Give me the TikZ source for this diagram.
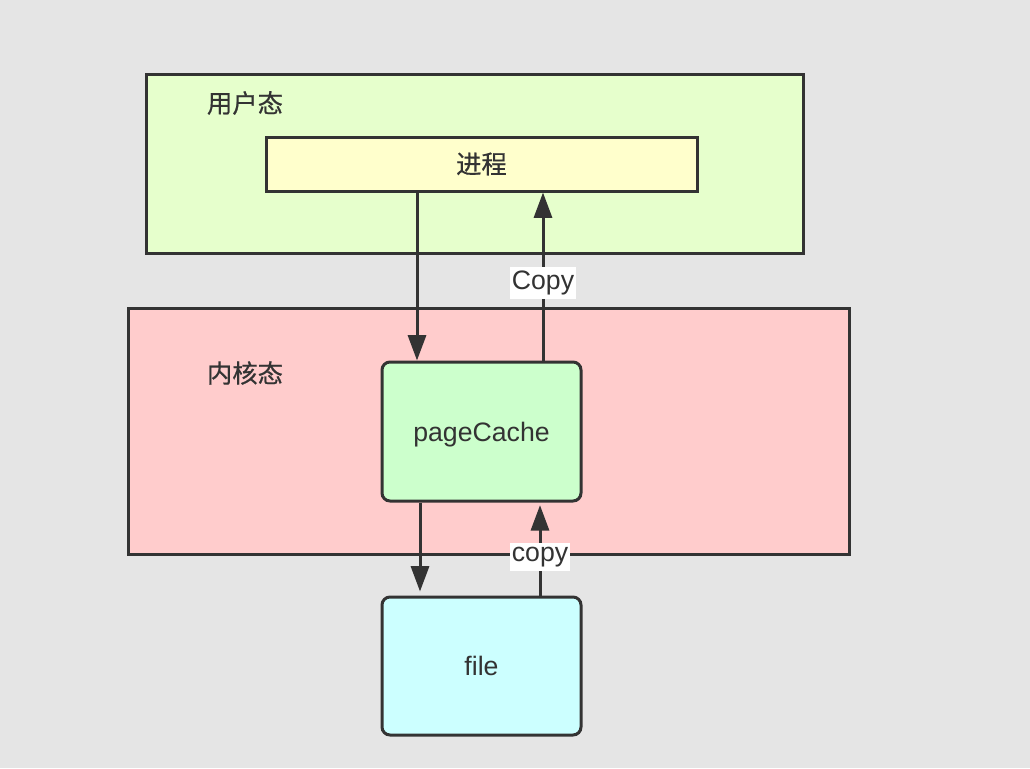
\documentclass[tikz,border=0pt]{standalone}
\usepackage{fontspec}
\setmainfont{Liberation Sans}
\newfontfamily\cjk[FakeBold=0.6]{Noto Sans CJK SC}
\usetikzlibrary{arrows.meta}
\definecolor{bg}{HTML}{E5E5E5}
\definecolor{ink}{HTML}{333333}
\definecolor{userfill}{HTML}{E6FFCC}
\definecolor{procfill}{HTML}{FFFFCC}
\definecolor{kernfill}{HTML}{FFCCCC}
\definecolor{cachefill}{HTML}{CCFFCC}
\definecolor{filefill}{HTML}{CCFFFF}
\tikzset{
  boxbase/.style={draw=ink, line width=2.25pt, inner sep=0pt, text=ink},
  region/.style={boxbase},
  rbox/.style={boxbase, rounded corners=6pt},
  cjkfont/.style={font=\cjk\fontsize{19}{22}\selectfont},
  cjklabel/.style={text=ink, cjkfont, inner sep=0pt},
  latlabel/.style={text=ink, font=\fontsize{20}{24}\selectfont, text depth=0pt, text height=14.3pt},
  arr/.style={draw=ink, line width=2.25pt, -{Triangle[length=19pt,width=13.5pt]}},
  tag/.style={fill=white, text=ink, font=\fontsize{20}{24}\selectfont, inner xsep=1.5pt, inner ysep=3pt}
}
\begin{document}
\begin{tikzpicture}[x=0.75pt,y=-0.75pt]
\fill[bg] (0,0) rectangle (1030,768);
\useasboundingbox (0,0) rectangle (1030,768);
% user region
\node[region, fill=userfill, minimum width=657*0.75pt, minimum height=179*0.75pt] (user) at (474.5,163.5) {};
\node[cjklabel] (userlbl) at (245,103) {用户态};
\node[region, fill=procfill, minimum width=431*0.75pt, minimum height=54*0.75pt, cjkfont] (proc) at (481.5,164) {进程};
% kernel region
\node[region, fill=kernfill, minimum width=721*0.75pt, minimum height=246*0.75pt] (kern) at (488.5,431) {};
\node[cjklabel] (kernlbl) at (245,373) {内核态};
\node[rbox, fill=cachefill, minimum width=199*0.75pt, minimum height=139*0.75pt, latlabel] (cache) at (481.5,431.5) {pageCache};
\node[rbox, fill=filefill, minimum width=199*0.75pt, minimum height=138*0.75pt, latlabel] (file) at (481.5,666) {file};
% arrows
\draw[arr] ([xshift=-64.5*0.75pt]proc.south) -- ([xshift=-64.5*0.75pt]cache.north);
\draw[arr] ([xshift=61.5*0.75pt]cache.north) -- node[tag, pos=0.46] (copyA) {Copy} ([xshift=61.5*0.75pt]proc.south);
\draw[arr] ([xshift=-61.5*0.75pt]cache.south) -- ([xshift=-61.5*0.75pt,yshift=3pt]file.north);
\draw[arr] ([xshift=58.5*0.75pt]file.north) -- node[tag, pos=0.43] (copyB) {copy} ([xshift=58.5*0.75pt,yshift=-2pt]cache.south);
\end{tikzpicture}
\end{document}
